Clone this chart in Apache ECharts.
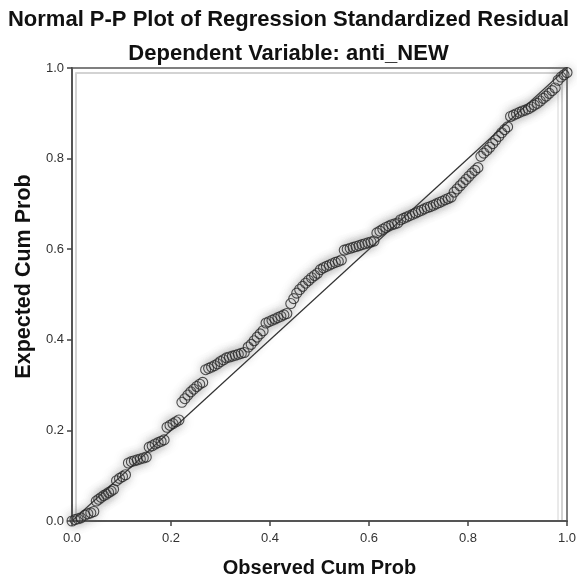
<!DOCTYPE html>
<html>
<head>
<meta charset="utf-8">
<script src="https://cdn.jsdelivr.net/npm/echarts@6/dist/echarts.min.js"></script>
<style>
  html, body { margin: 0; padding: 0; background: #fff; }
  #chart { width: 577px; height: 577px; }
</style>
</head>
<body>
<div id="chart"></div>
<script>
// Observed cumulative probability (x) for each case
const observedCumProb = [
  0.000, 0.006, 0.012, 0.018, 0.026, 0.032, 0.038, 0.044, 0.049, 0.054,
  0.059, 0.064, 0.069, 0.074, 0.079, 0.084, 0.090, 0.096, 0.102, 0.108,
  0.114, 0.120, 0.126, 0.132, 0.138, 0.144, 0.150, 0.156, 0.162, 0.168,
  0.174, 0.180, 0.186, 0.192, 0.198, 0.204, 0.210, 0.216, 0.222, 0.228,
  0.234, 0.240, 0.246, 0.252, 0.258, 0.264, 0.270, 0.276, 0.282, 0.288,
  0.294, 0.300, 0.306, 0.312, 0.318, 0.324, 0.330, 0.336, 0.342, 0.348,
  0.356, 0.362, 0.368, 0.374, 0.380, 0.386, 0.392, 0.398, 0.404, 0.410,
  0.416, 0.422, 0.428, 0.434, 0.442, 0.448, 0.454, 0.460, 0.466, 0.472,
  0.478, 0.484, 0.490, 0.496, 0.502, 0.508, 0.514, 0.520, 0.526, 0.532,
  0.538, 0.544, 0.550, 0.556, 0.562, 0.568, 0.574, 0.580, 0.586, 0.592,
  0.598, 0.604, 0.610, 0.616, 0.622, 0.628, 0.634, 0.640, 0.646, 0.652,
  0.658, 0.664, 0.670, 0.676, 0.682, 0.688, 0.694, 0.700, 0.706, 0.712,
  0.718, 0.724, 0.730, 0.736, 0.742, 0.748, 0.754, 0.760, 0.766, 0.772,
  0.778, 0.784, 0.790, 0.796, 0.802, 0.808, 0.814, 0.820, 0.826, 0.832,
  0.838, 0.844, 0.850, 0.856, 0.862, 0.868, 0.874, 0.880, 0.886, 0.892,
  0.898, 0.904, 0.910, 0.916, 0.922, 0.928, 0.934, 0.940, 0.946, 0.952,
  0.958, 0.964, 0.970, 0.976, 0.982, 0.988, 0.994, 1.000
];

// Expected cumulative probability (y) for each case
const expectedCumProb = [
  0.000, 0.003, 0.005, 0.007, 0.013, 0.016, 0.018, 0.021, 0.044, 0.048,
  0.052, 0.056, 0.059, 0.063, 0.066, 0.070, 0.089, 0.094, 0.098, 0.102,
  0.128, 0.131, 0.133, 0.135, 0.137, 0.139, 0.141, 0.163, 0.166, 0.170,
  0.173, 0.176, 0.179, 0.207, 0.211, 0.215, 0.219, 0.223, 0.262, 0.270,
  0.278, 0.285, 0.291, 0.297, 0.302, 0.306, 0.334, 0.337, 0.340, 0.343,
  0.347, 0.352, 0.356, 0.360, 0.362, 0.364, 0.366, 0.368, 0.370, 0.372,
  0.384, 0.390, 0.398, 0.406, 0.413, 0.420, 0.437, 0.440, 0.443, 0.446,
  0.449, 0.452, 0.455, 0.458, 0.480, 0.491, 0.503, 0.511, 0.518, 0.525,
  0.531, 0.537, 0.542, 0.547, 0.555, 0.559, 0.562, 0.565, 0.568, 0.571,
  0.573, 0.576, 0.598, 0.600, 0.602, 0.604, 0.606, 0.608, 0.610, 0.612,
  0.614, 0.616, 0.618, 0.636, 0.640, 0.644, 0.648, 0.651, 0.654, 0.656,
  0.658, 0.665, 0.668, 0.671, 0.674, 0.677, 0.680, 0.683, 0.686, 0.689,
  0.692, 0.694, 0.697, 0.700, 0.703, 0.706, 0.709, 0.712, 0.715, 0.726,
  0.733, 0.740, 0.747, 0.754, 0.761, 0.768, 0.774, 0.780, 0.805, 0.812,
  0.818, 0.825, 0.833, 0.841, 0.849, 0.857, 0.864, 0.870, 0.893, 0.896,
  0.899, 0.902, 0.905, 0.907, 0.910, 0.914, 0.918, 0.922, 0.927, 0.933,
  0.938, 0.944, 0.950, 0.956, 0.973, 0.980, 0.985, 0.990
];

// Reference diagonal
const diagonal = [[0, 0], [1, 1]];

const chart = echarts.init(document.getElementById("chart"));
const font = '"Liberation Sans", Arial, sans-serif';

const points = observedCumProb.map((x, i) => [x, expectedCumProb[i]]);

const axisCommon = {
  type: "value",
  min: 0,
  max: 1,
  interval: 0.2,
  axisLine: { show: true, lineStyle: { color: "#555", width: 2 } },
  axisTick: { show: true, length: 5, lineStyle: { color: "#444", width: 1.5 } },
  axisLabel: {
    color: "#333",
    fontSize: 13,
    fontFamily: font,
    formatter: (v) => v.toFixed(1),
  },
  splitLine: { show: false },
  nameLocation: "middle",
  nameTextStyle: { color: "#111", fontSize: 20, fontWeight: "bold", fontFamily: font },
};

const gridCommon = { top: 73, bottom: 56, show: true, outerBoundsMode: "none", containLabel: false };

const option = {
  backgroundColor: "#fff",
  animation: false,
  title: [
    {
      text: "Normal P-P Plot of Regression Standardized Residual",
      left: "center",
      top: 4,
      textStyle: { color: "#111", fontSize: 22, fontWeight: "bold", fontFamily: font },
    },
    {
      text: "Dependent Variable: anti_NEW",
      left: "center",
      top: 38,
      textStyle: { color: "#111", fontSize: 22, fontWeight: "bold", fontFamily: font },
    },
  ],
  grid: [
    Object.assign({}, gridCommon, { left: 72, right: 10, top: 68, borderColor: "#555", borderWidth: 1.5 }),
    Object.assign({}, gridCommon, { left: 76, right: 15, borderColor: "#c4c4c4", borderWidth: 1.5 }),
    Object.assign({}, gridCommon, { left: 76, right: 19, borderColor: "#d4d4d4", borderWidth: 1 }),
  ],
  xAxis: [
    Object.assign({}, axisCommon, {
      gridIndex: 0,
      name: "Observed Cum Prob",
      nameGap: 37,
      axisLabel: Object.assign({}, axisCommon.axisLabel, { margin: 11 }),
    }),
    { gridIndex: 1, type: "value", show: false, min: 0, max: 1 },
    { gridIndex: 2, type: "value", show: false, min: 0, max: 1 },
  ],
  yAxis: [
    Object.assign({}, axisCommon, {
      gridIndex: 0,
      name: "Expected Cum Prob",
      nameGap: 36,
      nameTextStyle: Object.assign({}, axisCommon.nameTextStyle, {
        fontSize: 21.5,
        padding: [0, 0, 0, 36],
      }),
    }),
    { gridIndex: 1, type: "value", show: false, min: 0, max: 1 },
    { gridIndex: 2, type: "value", show: false, min: 0, max: 1 },
  ],
  series: [
    {
      type: "line",
      xAxisIndex: 0,
      yAxisIndex: 0,
      data: diagonal,
      symbol: "none",
      lineStyle: { color: "#333", width: 1.2 },
      z: 3,
    },
    {
      type: "scatter",
      xAxisIndex: 0,
      yAxisIndex: 0,
      data: points,
      symbol: "circle",
      symbolSize: 10,
      itemStyle: {
        color: "rgba(255,255,255,0)",
        borderColor: "#222",
        borderWidth: 1.1,
        shadowColor: "rgba(120,120,120,0.95)",
        shadowBlur: 8,
      },
      z: 4,
    },
  ],
};

chart.setOption(option);
</script>
</body>
</html>
